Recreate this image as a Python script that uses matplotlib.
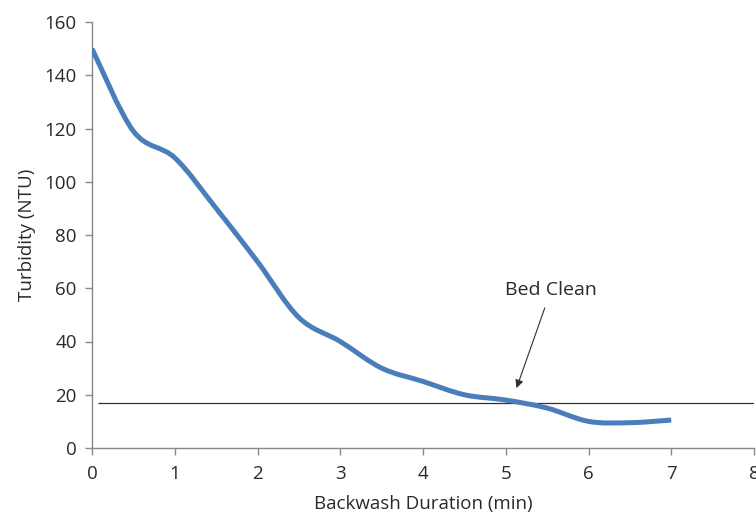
import matplotlib
matplotlib.use("Agg")
import matplotlib.pyplot as plt
from matplotlib.path import Path
from matplotlib.patches import PathPatch
import numpy as np

plt.rcParams['font.family'] = ['Open Sans', 'DejaVu Sans']

# backwash readings
duration = [0, 0.5, 1, 1.5, 2, 2.5, 3, 3.5, 4, 4.5, 5, 5.5, 6, 6.5, 7]
turbidity = [150, 119, 109, 90, 70, 49, 40, 30, 25, 20, 18, 15, 10, 9.5, 10.5]
clean_level = 17
x_ticks = [0, 1, 2, 3, 4, 5, 6, 7, 8]
y_ticks = [0, 20, 40, 60, 80, 100, 120, 140, 160]


def smooth_path(xs, ys, t=1 / 6):
    # excel-like smoothed line: cubic bezier segments, catmull-rom tangents
    pts = np.column_stack([xs, ys]).astype(float)
    verts = [pts[0]]
    codes = [Path.MOVETO]
    n = len(pts)
    for i in range(n - 1):
        p0 = pts[i - 1] if i > 0 else pts[i]
        p1 = pts[i]
        p2 = pts[i + 1]
        p3 = pts[i + 2] if i + 2 < n else pts[i + 1]
        c1 = p1 + (p2 - p0) * t
        c2 = p2 - (p3 - p1) * t
        verts += [c1, c2, p2]
        codes += [Path.CURVE4] * 3
    return Path(verts, codes)


fig = plt.figure(figsize=(7.56, 5.17), dpi=100)
ax = fig.add_axes([92 / 756, 69 / 517, 662 / 756, 426 / 517])

grey = '#898989'
text_c = '#2a2a2a'

ax.hlines(clean_level, 0.07, 8, color='#303030', linewidth=0.9, zorder=2)

patch = PathPatch(smooth_path(duration, turbidity), facecolor='none',
                  edgecolor='#4a7ebb', linewidth=3.6, capstyle='butt', zorder=3)
ax.add_patch(patch)

ax.annotate('Bed Clean', xy=(5.13, 22.5), xytext=(5.55, 59.5),
            ha='center', va='center', fontsize=14, color=text_c,
            arrowprops=dict(arrowstyle='-|>', color='#303030', lw=0.8,
                            mutation_scale=12, shrinkA=5, shrinkB=0))

ax.set_xlim(0, 8)
ax.set_ylim(0, 160)
ax.set_xticks(x_ticks)
ax.set_yticks(y_ticks)
for s in ['top', 'right']:
    ax.spines[s].set_visible(False)
for s in ['left', 'bottom']:
    ax.spines[s].set_color(grey)
    ax.spines[s].set_linewidth(1.0)
ax.tick_params(colors=grey, labelcolor=text_c, labelsize=13.5, length=5, width=1.0)
ax.tick_params(axis='x', pad=7)
ax.tick_params(axis='y', pad=6)

ax.set_xlabel('Backwash Duration (min)', fontsize=13.5, color=text_c, labelpad=9)
ax.set_ylabel('Turbidity (NTU)', fontsize=13.5, color=text_c, labelpad=6)

fig.savefig('out.png', dpi=100)
